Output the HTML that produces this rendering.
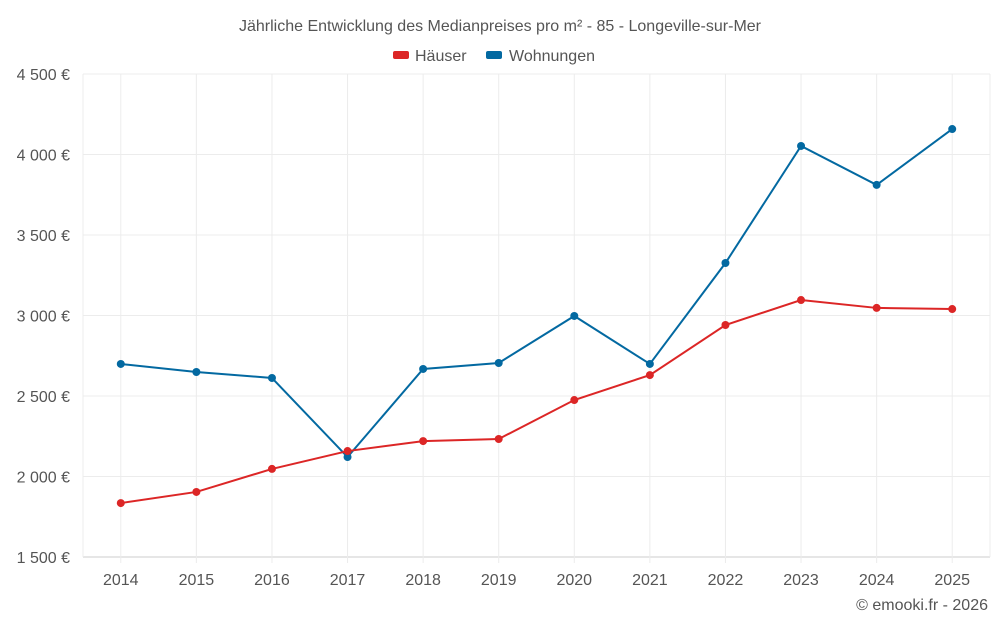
<!DOCTYPE html>
<html><head><meta charset="utf-8"><style>
body{margin:0;background:#fff;font-family:"Liberation Sans",sans-serif;}
svg text{font-family:"Liberation Sans",sans-serif;}
</style></head><body>
<svg id="chart" width="1000" height="625">
<text x="500" y="31" text-anchor="middle" font-size="16" fill="#555">Jährliche Entwicklung des Medianpreises pro m² - 85 - Longeville-sur-Mer</text>
<g>
<g><rect x="393" y="51" width="16" height="8" rx="2" fill="#dc2626"/><text x="415" y="61" font-size="16" fill="#555">Häuser</text></g>
<g><rect x="486" y="51" width="16" height="8" rx="2" fill="#0369a1"/><text x="509" y="61" font-size="16" fill="#555">Wohnungen</text></g>
</g>
<g id="grid"></g><g id="axes"></g><g id="series"></g>
<text x="988" y="610" text-anchor="end" font-size="16" fill="#555">© emooki.fr - 2026</text>
</svg>
<script>
const years=[2014,2015,2016,2017,2018,2019,2020,2021,2022,2023,2024,2025];
const haeuser=[1835,1904,2047,2158,2220,2233,2475,2630,2941,3096,3047,3040];
const wohnungen=[2699,2649,2612,2121,2668,2705,2997,2699,3326,4053,3811,4158];
const yTicks=[1500,2000,2500,3000,3500,4000,4500];
const yTickLabels=["1 500 €","2 000 €","2 500 €","3 000 €","3 500 €","4 000 €","4 500 €"];
const L=83,R=990,T=74,B=557,ns="http://www.w3.org/2000/svg";
const step=(R-L)/years.length;
const x=i=>L+step*(i+0.5);
const y=v=>B-(v-1500)/3000*(B-T);
function mk(t,a,p){const e=document.createElementNS(ns,t);for(const k in a)e.setAttribute(k,a[k]);p.appendChild(e);return e;}
const g=document.getElementById('grid'),ax=document.getElementById('axes'),s=document.getElementById('series');
yTicks.forEach((v,i)=>{
 const l=mk('line',{x1:L,x2:R,y1:y(v),y2:y(v),stroke:i==0?'#ccc':'#ececec'},g);
 
 
 const t=mk('text',{x:70,y:y(v)+6,'text-anchor':'end','font-size':16,fill:'#555'},ax);t.textContent=yTickLabels[i];
 
 
});
[L,R].forEach(xx=>{const l=mk('line',{x1:xx,x2:xx,y1:T,y2:B,stroke:'#ececec'},g);
 
 });
years.forEach((yr,i)=>{
 const l=mk('line',{x1:x(i),x2:x(i),y1:T,y2:B+6,stroke:'#ececec'},g);
 
 
 const t=mk('text',{x:x(i),y:585,'text-anchor':'middle','font-size':16,fill:'#555'},ax);t.textContent=yr;
 
 
});
function series(vals,col,name){
 const p=mk('polyline',{points:vals.map((v,i)=>x(i)+','+y(v)).join(' '),fill:'none',stroke:col,'stroke-width':2},s);
 
 
 vals.forEach((v,i)=>{const c=mk('circle',{cx:x(i),cy:y(v),r:4,fill:col},s);
  
  });
}
series(wohnungen,'#0369a1','wohnungen');
series(haeuser,'#dc2626','haeuser');
</script>
</body></html>
